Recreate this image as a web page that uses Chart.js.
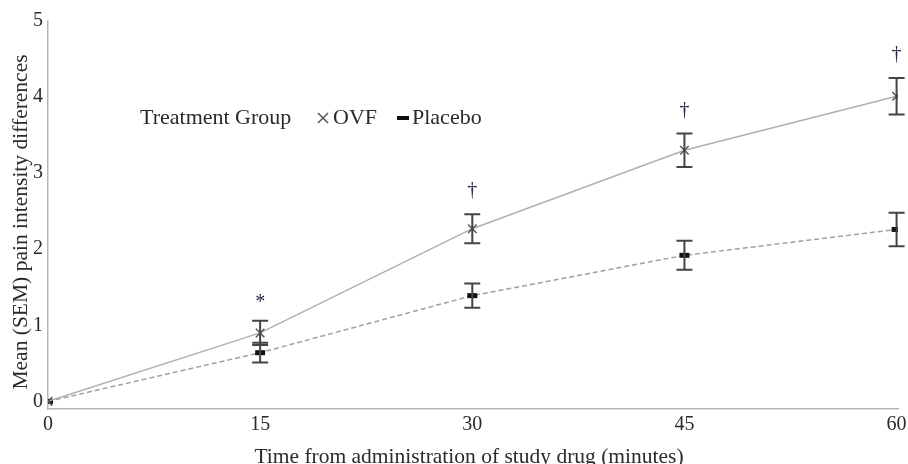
<!DOCTYPE html>
<html>
<head>
<meta charset="utf-8">
<script src="https://cdn.jsdelivr.net/npm/chart.js@4.4.0/dist/chart.umd.min.js"></script>
<style>
  html, body { margin: 0; padding: 0; background: #ffffff; }
  #wrap { width: 908px; height: 464px; }
</style>
</head>
<body>
<div id="wrap"><canvas id="c" width="908" height="464"></canvas></div>
<script>
// ---- data ----
const timePoints   = [0, 15, 30, 45, 60];
const ovfMean      = [0, 0.90, 2.27, 3.30, 4.01];
const ovfSem       = [0, 0.16, 0.19, 0.22, 0.24];
const placeboMean  = [0, 0.64, 1.39, 1.92, 2.26];
const placeboSem   = [0, 0.13, 0.16, 0.19, 0.22];
const sigMarks     = ['', '*', '\u2020', '\u2020', '\u2020'];
const xTicks       = [0, 15, 30, 45, 60];
const yTicks       = [0, 1, 2, 3, 4, 5];
const seriesNames  = ['OVF', 'Placebo'];
const legendTitle  = 'Treatment Group';
const xTitle       = 'Time from administration of study drug (minutes)';
const yTitle       = 'Mean (SEM) pain intensity differences';

const FONT = "'Liberation Serif', 'Times New Roman', serif";
const TEXT = '#2a2a2a';

const toPts = (ys) => timePoints.map((t, i) => ({ x: t, y: ys[i] }));

const errorBarPlugin = {
  id: 'errorBars',
  afterDatasetsDraw(chart) {
    const { ctx, scales: { x, y } } = chart;
    const sems = [ovfSem, placeboSem];
    const means = [ovfMean, placeboMean];
    ctx.save();
    ctx.strokeStyle = '#444';
    ctx.lineWidth = 2;
    for (let s = 0; s < 2; s++) {
      for (let i = 0; i < timePoints.length; i++) {
        const e = sems[s][i];
        if (!e) continue;
        const px = x.getPixelForValue(timePoints[i]);
        const top = y.getPixelForValue(means[s][i] + e);
        const bot = y.getPixelForValue(means[s][i] - e);
        ctx.beginPath();
        ctx.moveTo(px, top); ctx.lineTo(px, bot);
        ctx.moveTo(px - 8, top); ctx.lineTo(px + 8, top);
        ctx.moveTo(px - 8, bot); ctx.lineTo(px + 8, bot);
        ctx.stroke();
      }
    }
    // significance marks above OVF error bars
    ctx.fillStyle = '#2e2a44';
    ctx.textAlign = 'center';
    ctx.textBaseline = 'middle';
    ctx.font = '20px ' + FONT;
    for (let i = 0; i < timePoints.length; i++) {
      if (!sigMarks[i]) continue;
      const px = x.getPixelForValue(timePoints[i]);
      const top = y.getPixelForValue(ovfMean[i] + ovfSem[i]);
      ctx.fillText(sigMarks[i], px, top - (sigMarks[i] === '*' ? 18 : 23));
    }
    ctx.restore();
  },
  afterDraw(chart) {
    const { ctx } = chart;
    ctx.save();
    ctx.fillStyle = TEXT;
    ctx.textBaseline = 'middle';
    ctx.textAlign = 'left';
    ctx.font = '22px ' + FONT;
    const ly = 118;
    ctx.fillText(legendTitle, 140, ly);
    // x symbol
    ctx.strokeStyle = '#555';
    ctx.lineWidth = 1.5;
    ctx.beginPath();
    ctx.moveTo(318, ly - 5); ctx.lineTo(328, ly + 5);
    ctx.moveTo(328, ly - 5); ctx.lineTo(318, ly + 5);
    ctx.stroke();
    ctx.fillText(seriesNames[0], 333, ly);
    // placebo dash symbol
    ctx.strokeStyle = '#111';
    ctx.lineWidth = 4;
    ctx.beginPath();
    ctx.moveTo(397, ly); ctx.lineTo(409, ly);
    ctx.stroke();
    ctx.fillText(seriesNames[1], 412, ly);

    // axis titles
    ctx.font = '21.5px ' + FONT;
    ctx.textAlign = 'center';
    ctx.fillText(xTitle, 469, 457);
    ctx.translate(21, 222);
    ctx.rotate(-Math.PI / 2);
    ctx.fillText(yTitle, 0, 0);
    ctx.restore();
  }
};

new Chart(document.getElementById('c'), {
  type: 'line',
  data: {
    datasets: [
      {
        label: seriesNames[0],
        data: toPts(ovfMean),
        borderColor: '#b0b0b0',
        borderWidth: 1.5,
        pointStyle: 'crossRot',
        pointRadius: 6,
        pointBorderWidth: 1.5,
        pointBorderColor: '#555',
        pointBackgroundColor: '#555',
        tension: 0
      },
      {
        label: seriesNames[1],
        data: toPts(placeboMean),
        borderColor: '#a0a0a0',
        borderWidth: 1.5,
        borderDash: [5, 3],
        pointStyle: 'line',
        pointRadius: 5,
        pointBorderWidth: 5,
        pointBorderColor: '#111',
        pointBackgroundColor: '#111',
        tension: 0
      }
    ]
  },
  options: {
    responsive: false,
    animation: false,
    devicePixelRatio: 1,
    layout: { padding: { left: 0, right: 4, top: 21, bottom: 0 } },
    plugins: {
      legend: { display: false },
      tooltip: { enabled: false }
    },
    scales: {
      x: {
        type: 'linear',
        min: 0,
        max: 60.1,
        afterBuildTicks: (s) => { s.ticks = xTicks.map(v => ({ value: v })); },
        afterFit: (s) => { s.height = 55; },
        grid: { display: false, drawTicks: false },
        border: { display: true, color: '#b5b5b5', width: 1.5 },
        ticks: { color: TEXT, padding: 0, font: { family: FONT, size: 20, lineHeight: 1.6 }, maxRotation: 0 },
        title: { display: false }
      },
      y: {
        type: 'linear',
        min: -0.1,
        max: 5,
        afterBuildTicks: (s) => { s.ticks = yTicks.map(v => ({ value: v })); },
        afterFit: (s) => { s.width = 48; s.paddingTop = 0; s.paddingBottom = 0; },
        grid: { display: false, drawTicks: false },
        border: { display: true, color: '#b5b5b5', width: 1.5 },
        ticks: { color: TEXT, padding: 5, font: { family: FONT, size: 20 } },
        title: { display: false }
      }
    }
  },
  plugins: [errorBarPlugin]
});
</script>
</body>
</html>
